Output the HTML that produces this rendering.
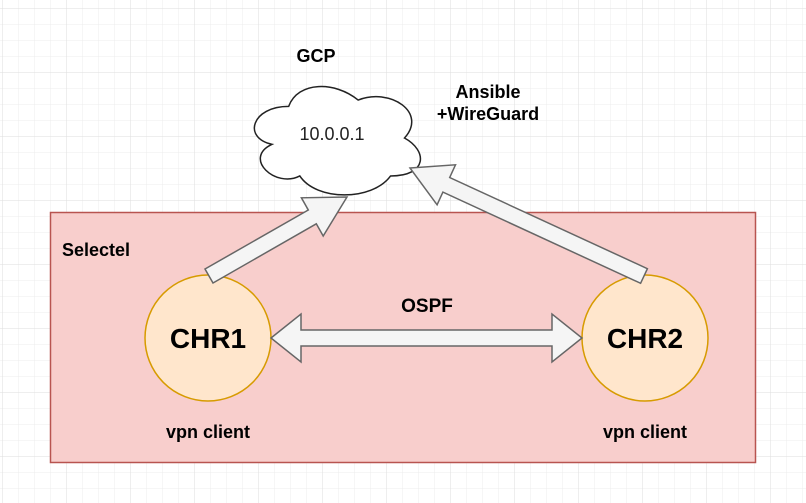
<!DOCTYPE html>
<html><head><meta charset="utf-8"><style>
body{margin:0;width:806px;height:503px;overflow:hidden;background:#fff}
svg{display:block}
text{font-family:"Liberation Sans",Arial,sans-serif}
</style></head><body>
<svg width="806" height="503" viewBox="0 0 806 503" xmlns="http://www.w3.org/2000/svg">
<defs>
<pattern id="mi" x="2" y="8" width="16" height="16" patternUnits="userSpaceOnUse">
<path d="M0 0H16M0 0V16" stroke="#ececec" stroke-width="1" fill="none"/>
</pattern>
<pattern id="ma" x="2" y="8" width="64" height="64" patternUnits="userSpaceOnUse">
<path d="M0 0H64M0 0V64" stroke="#dedede" stroke-width="1" fill="none"/>
</pattern>
</defs>
<rect width="806" height="503" fill="url(#mi)"/>
<rect width="806" height="503" fill="url(#ma)"/>
<rect x="50.5" y="212.5" width="705" height="250" fill="#f8cecc" stroke="#b85450" stroke-width="1.5"/>
<text x="62" y="256" font-size="18" font-weight="bold">Selectel</text>
<path transform="translate(335 138) scale(1.09 1.15) translate(-335 -138)" d="M292.5 110.5 C258.5 110.5 250 138 277.2 143.5 C250 155.6 280.6 182 302.7 171 C318 193 369 193 386 171 C420 171 420 149 398.75 138 C420 116 386 94 356.25 105 C335 88.5 301 88.5 292.5 110.5 Z" fill="#fff" stroke="#222" stroke-width="1.5" vector-effect="non-scaling-stroke"/>
<text x="332" y="140" font-size="18" text-anchor="middle" fill="#222">10.0.0.1</text>
<text x="316" y="62" font-size="18" font-weight="bold" text-anchor="middle">GCP</text>
<text x="488" y="98" font-size="18" font-weight="bold" text-anchor="middle">Ansible</text>
<text x="488" y="120" font-size="18" font-weight="bold" text-anchor="middle">+WireGuard</text>
<circle cx="208" cy="338" r="63" fill="#ffe6cc" stroke="#d79b00" stroke-width="1.5"/>
<circle cx="645" cy="338" r="63" fill="#ffe6cc" stroke="#d79b00" stroke-width="1.5"/>
<text x="208" y="348" font-size="28" font-weight="bold" text-anchor="middle">CHR1</text>
<text x="645" y="348" font-size="28" font-weight="bold" text-anchor="middle">CHR2</text>
<text x="208" y="438" font-size="18" font-weight="bold" text-anchor="middle">vpn client</text>
<text x="645" y="438" font-size="18" font-weight="bold" text-anchor="middle">vpn client</text>
<text x="427" y="312" font-size="19" font-weight="bold" text-anchor="middle">OSPF</text>
<polygon points="271,338 301,314 301,330 552,330 552,314 582,338 552,362 552,346 301,346 301,362" fill="#f5f5f5" stroke="#666" stroke-width="1.5" stroke-linejoin="miter"/>
<polygon points="347,197 323.2,236 316.3,223.8 213,283 205,269 308.3,210 301.4,197.8" fill="#f5f5f5" stroke="#666" stroke-width="1.5"/>
<polygon points="410,168 455.5,164.8 449.7,177.5 647.4,268.7 640.6,283.3 442.9,192.1 437.1,204.8" fill="#f5f5f5" stroke="#666" stroke-width="1.5"/>
</svg>
</body></html>
